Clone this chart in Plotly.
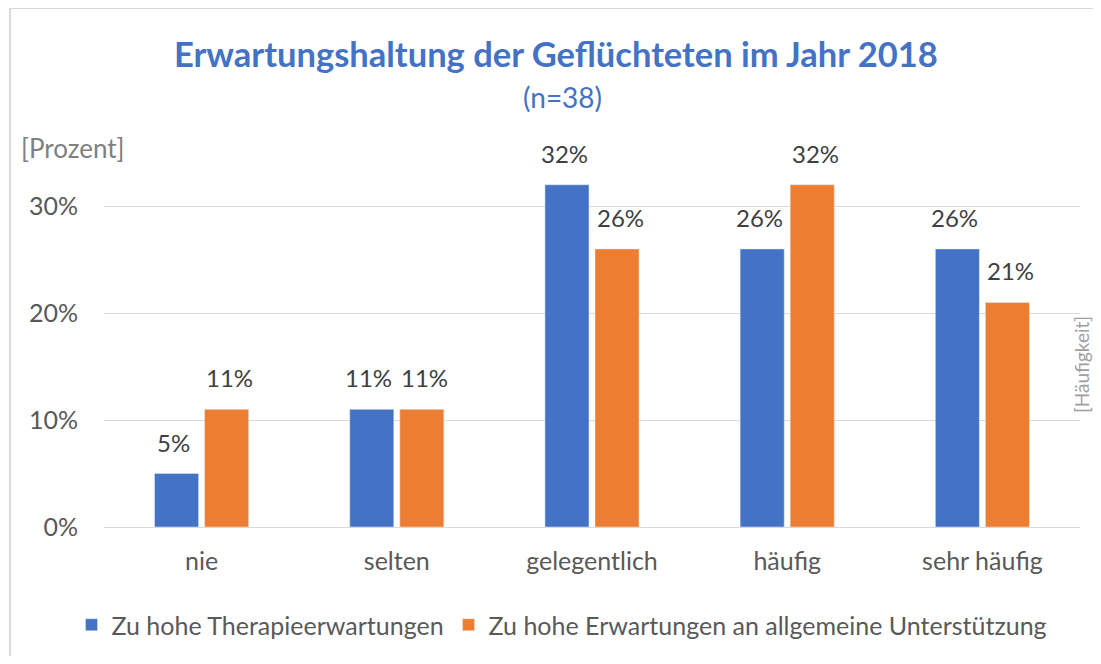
import plotly.graph_objects as go

categories = ["nie", "selten", "gelegentlich", "häufig", "sehr häufig"]
therapie = [0.05, 0.11, 0.32, 0.26, 0.26]
unterstuetzung = [0.11, 0.11, 0.26, 0.32, 0.21]
series_names = ["Zu hohe Therapieerwartungen", "Zu hohe Erwartungen an allgemeine Unterstützung"]
colors = ["#4472C4", "#ED7D31"]

FONT = "Lato"
FS = 25
OFF = 8  # the page body adds an 8px margin on each side
W, H = 1101 - 2 * OFF, 664 - 2 * OFF
L, T = 104 - OFF, 142 - OFF
R = W - (1080 - OFF)
B = H - (527 - OFF)
pw, ph = W - L - R, H - T - B

def px_x(x):
    return (x - OFF - L) / pw

def px_y(y):
    return (H - B - (y - OFF)) / ph

fig = go.Figure()
for name, vals, col in zip(series_names, [therapie, unterstuetzung], colors):
    fig.add_trace(go.Bar(x=categories, y=vals, name=name, marker_color=col))

# data labels above the bars (Excel leaves a bit of space)
for vals, shift in [(therapie, -28), (unterstuetzung, 28)]:
    for c, v in zip(categories, vals):
        fig.add_annotation(x=c, y=v, text=f"{v:.0%}", showarrow=False,
                           xshift=shift, yshift=15, yanchor="bottom",
                           font=dict(family=FONT, size=FS - 1, color="#404040"))

fig.update_layout(
    width=W, height=H,
    margin=dict(l=L, r=R, t=T, b=B, autoexpand=False),
    paper_bgcolor="white", plot_bgcolor="white",
    barmode="group", bargap=0.487, bargroupgap=0.12,
    font=dict(family=FONT, size=FS, color="#595959"),
    showlegend=True,
    legend=dict(orientation="h", x=px_x(562), xanchor="center", y=px_y(625), yanchor="middle",
                font=dict(family=FONT, size=25, color="#595959"), itemwidth=30,
                traceorder="normal"),
    xaxis=dict(showgrid=False, showline=True, linecolor="#D9D9D9", ticks="",
               tickfont=dict(size=FS, color="#595959"), ticklabelstandoff=12),
    yaxis=dict(range=[0, 0.36], dtick=0.1, tickformat=".0%", showgrid=True,
               gridcolor="#D9D9D9", zeroline=False, showline=False,
               tickfont=dict(size=FS, color="#595959"), ticklabelstandoff=25),
)

fig.add_annotation(text="<b>Erwartungshaltung der Geflüchteten im Jahr 2018</b>",
                   xref="paper", yref="paper", x=px_x(556), y=px_y(53), showarrow=False,
                   xanchor="center", yanchor="middle",
                   font=dict(family=FONT, size=34.5, color="#4472C4"))
fig.add_annotation(text="(n=38)", xref="paper", yref="paper", x=px_x(562), y=px_y(97),
                   showarrow=False, xanchor="center", yanchor="middle",
                   font=dict(family=FONT, size=28, color="#4472C4"))
fig.add_annotation(text="[Prozent]", xref="paper", yref="paper", x=px_x(19), y=px_y(148),
                   showarrow=False, xanchor="left", yanchor="middle",
                   font=dict(family=FONT, size=26, color="#808080"))
fig.add_annotation(text="[Häufigkeit]", xref="paper", yref="paper", x=px_x(1081), y=px_y(365),
                   showarrow=False, xanchor="center", yanchor="middle", textangle=-90,
                   font=dict(family=FONT, size=19, color="#A0A0A0"))

# chart border like the Excel frame
fig.add_shape(type="rect", xref="paper", yref="paper",
              x0=px_x(10), y0=px_y(700), x1=px_x(1140), y1=px_y(8),
              line=dict(color="#D9D9D9", width=2), layer="below")

fig.write_html("out.html")
